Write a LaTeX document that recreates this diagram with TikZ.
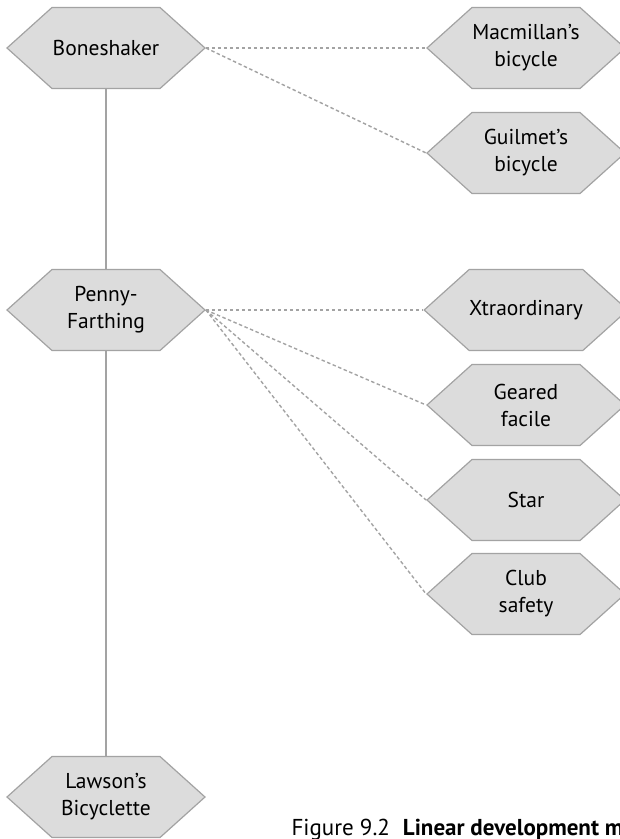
\documentclass[tikz,border=0pt]{standalone}
\usepackage{fontspec}
\setmainfont{PT Sans}
\usetikzlibrary{shapes.symbols}
\definecolor{hexfill}{HTML}{DCDCDC}
\definecolor{hexline}{HTML}{A3A3A3}
\tikzset{
  hexa/.style={signal, signal to=west and east, signal pointer angle=84,
    draw=hexline, fill=hexfill, line width=1.2pt, minimum width=198pt,
    minimum height=81pt, inner sep=0pt, align=center,
    font=\fontsize{21.5}{27}\selectfont},
  trunk/.style={draw=hexline, line width=1.5pt},
  branch/.style={draw=hexline, line width=1.4pt, dash pattern=on 3.5pt off 2.5pt},
}

\begin{document}
\begin{tikzpicture}[x=1pt,y=-1pt]
  \useasboundingbox (0,0) rectangle (620,839);
  \clip (0,0) rectangle (620,839);
  % main line
  \node[hexa] (boneshaker) at (106,48){Boneshaker};
  \node[hexa] (penny) at (106,310){Penny-\\Farthing};
  \node[hexa] (lawson) at (106,797){Lawson's\\Bicyclette};
  % side branches
  \node[hexa] (macmillan) at (526,48){Macmillan's\\bicycle};
  \node[hexa] (guilmet) at (526,153){Guilmet's\\bicycle};
  \node[hexa] (xtra) at (526,310){Xtraordinary};
  \node[hexa] (geared) at (526,405){Geared\\facile};
  \node[hexa] (star) at (526,500){Star};
  \node[hexa] (club) at (526,594){Club\\safety};
  \draw[trunk] (boneshaker.south) -- (penny.north);
  \draw[trunk] (penny.south) -- (lawson.north);
  \foreach \b in {macmillan,guilmet}
    \draw[branch] (boneshaker.east) -- (\b.west);
  \foreach \b in {xtra,geared,star,club}
    \draw[branch] (penny.east) -- (\b.west);
  \node[anchor=base west, font=\fontsize{23}{26}\selectfont] (caption) at (288,835)
    {Figure 9.2\hspace{13pt}\textbf{Linear development model}};
\end{tikzpicture}
\end{document}
